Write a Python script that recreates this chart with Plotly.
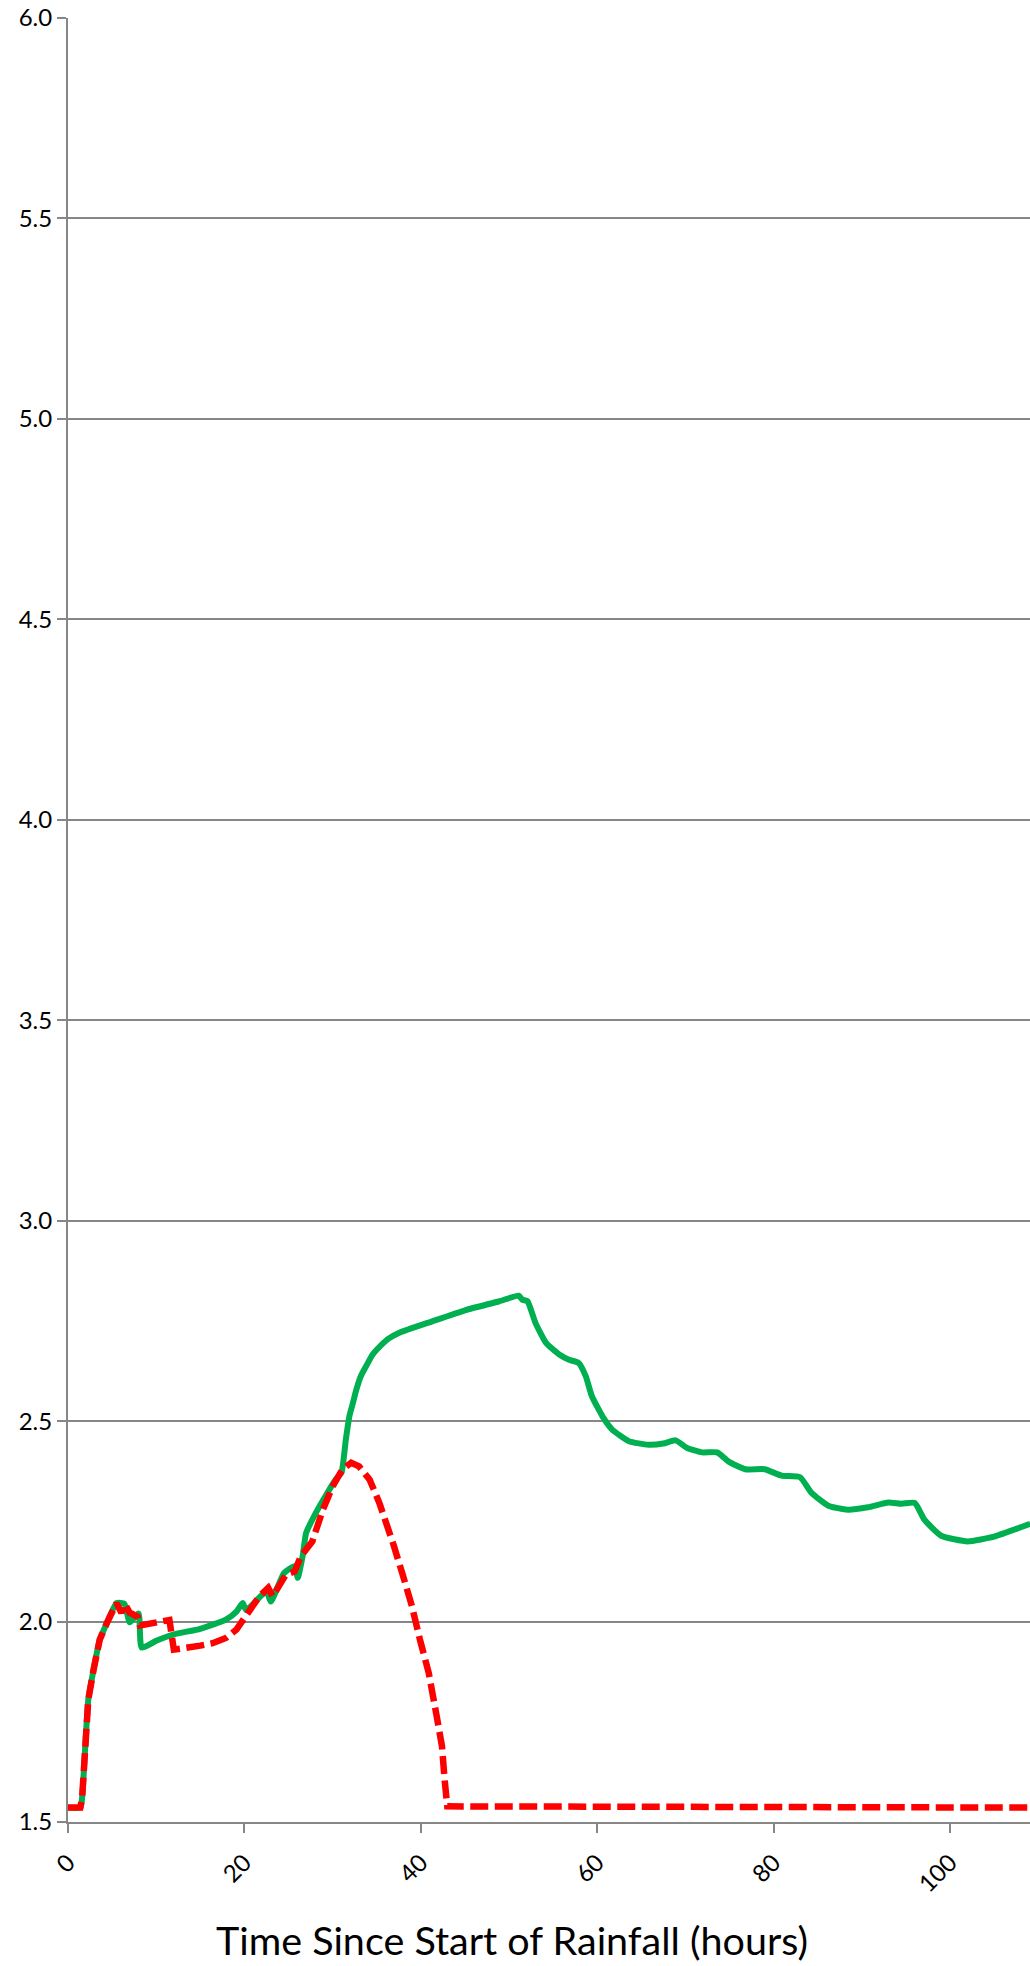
import plotly.graph_objects as go

# Modelled water level (m) vs. time since rainfall began (hours)
green_t = [0, 1.4, 1.6, 2.3, 2.9, 3.6, 4.4, 5.5, 6.4, 7.0, 8.0, 8.35, 10.0, 12.0, 15.0,
           17.9, 19.1, 19.8, 20.2, 22.5, 23.0, 24.5, 25.7, 26.05, 26.6, 27.0, 28.1, 29.3,
           30.4, 31.0, 31.5, 31.9, 32.3, 32.7, 33.2, 33.9, 34.5, 35.0, 36.3, 37.5, 41.3,
           45.1, 48.9, 51.1, 51.5, 52.1, 53.0, 54.2, 55.7, 56.8, 57.9, 58.7, 59.4, 60.6,
           61.7, 63.6, 65.8, 67.5, 68.9, 70.2, 71.9, 73.6, 74.9, 76.8, 79.0, 80.9, 83.0,
           84.3, 86.2, 88.4, 90.7, 93.0, 94.5, 96.0, 97.1, 99.0, 102.0, 105.0, 109.1]
green_v = [1.536, 1.536, 1.56, 1.805, 1.88, 1.955, 1.996, 2.046, 2.044, 1.998, 2.02, 1.935,
           1.952, 1.968, 1.982, 2.005, 2.025, 2.046, 2.029, 2.075, 2.05, 2.121, 2.138, 2.109,
           2.163, 2.221, 2.271, 2.317, 2.356, 2.371, 2.454, 2.512, 2.545, 2.579, 2.612,
           2.641, 2.665, 2.678, 2.705, 2.72, 2.749, 2.777, 2.799, 2.813, 2.803, 2.799,
           2.745, 2.695, 2.666, 2.653, 2.645, 2.612, 2.562, 2.512, 2.479, 2.45, 2.441,
           2.444, 2.452, 2.433, 2.422, 2.422, 2.399, 2.38, 2.38, 2.364, 2.36, 2.321, 2.289,
           2.279, 2.285, 2.297, 2.294, 2.296, 2.254, 2.214, 2.2, 2.212, 2.244]

red_t = [0, 1.4, 1.6, 2.3, 2.9, 3.6, 4.4, 5.5, 6.05, 6.45, 7.0, 7.9, 8.15, 9.7, 11.2, 11.5,
         12.0, 13.8, 15.0, 16.4, 17.9, 19.1, 20.2, 21.7, 22.7, 23.2, 24.7, 25.7, 26.4,
         27.7, 28.9, 30.0, 31.1, 32.1, 33.0, 34.2, 35.3, 36.4, 36.9, 38.0, 39.0, 39.9,
         40.9, 41.8, 42.4, 42.7, 43.0, 109.1]
red_v = [1.536, 1.536, 1.56, 1.805, 1.88, 1.955, 1.996, 2.046, 2.022, 2.044, 2.022, 2.012,
         1.99, 1.997, 2.005, 2.004, 1.93, 1.934, 1.94, 1.946, 1.959, 1.98, 2.017, 2.063,
         2.084, 2.063, 2.117, 2.125, 2.163, 2.2, 2.279, 2.337, 2.379, 2.396, 2.387, 2.354,
         2.296, 2.229, 2.192, 2.113, 2.038, 1.955, 1.872, 1.764, 1.689, 1.606, 1.539, 1.536]

x_ticks = [0, 20, 40, 60, 80, 100]
y_ticks = [1.5, 2.0, 2.5, 3.0, 3.5, 4.0, 4.5, 5.0, 5.5, 6.0]
x_title = "Time Since Start of Rainfall (hours)"

GRID = "#868686"
FONT = "Lato"

fig = go.Figure()
fig.add_trace(go.Scatter(x=green_t, y=green_v, mode="lines",
                         line=dict(color="#00B050", width=6, shape="spline", smoothing=0.5),
                         showlegend=False))
fig.add_trace(go.Scatter(x=red_t, y=red_v, mode="lines",
                         line=dict(color="#FF0000", width=6.5, dash="18px,6.5px"),
                         showlegend=False))

fig.update_layout(
    width=1030, height=1966,
    margin=dict(l=68, r=0, t=18, b=143.5),
    paper_bgcolor="white", plot_bgcolor="white",
    font=dict(family=FONT, size=24, color="black"),
    xaxis=dict(range=[0, 109.07], tickvals=x_ticks, ticktext=[str(v) for v in x_ticks],
               tickangle=-45, showgrid=False, zeroline=False,
               showline=True, linecolor=GRID, linewidth=2,
               ticks="outside", ticklen=9, tickwidth=2, tickcolor=GRID,
               ticklabelstandoff=6,
               tickfont=dict(family=FONT, size=24, color="black")),
    yaxis=dict(range=[1.5, 6.0], tickvals=y_ticks, ticktext=[f"{v:.1f}" for v in y_ticks],
               showgrid=True, gridcolor=GRID, gridwidth=2, zeroline=False,
               showline=True, linecolor=GRID, linewidth=2,
               ticks="outside", ticklen=9, tickwidth=2, tickcolor=GRID,
               tickfont=dict(family=FONT, size=24, color="black")),
    annotations=[dict(text=x_title, xref="paper", yref="paper",
                      x=(512 - 68) / 962, y=-(1966 - 1822.5) / 1804.5,
                      xanchor="center", yanchor="bottom", showarrow=False,
                      font=dict(family=FONT, size=39.5, color="black"))],
)

fig.write_html("out.html")
